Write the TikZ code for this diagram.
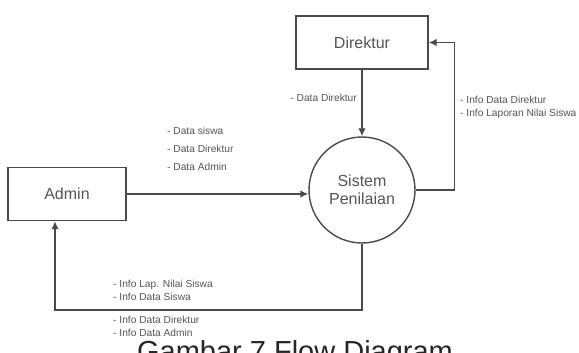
\documentclass[tikz,border=0pt]{standalone}
\usepackage{fontspec}
\setmainfont{Liberation Sans}
\usetikzlibrary{arrows.meta, positioning, calc}
\definecolor{garis}{HTML}{4A4A4A}
\definecolor{teks}{HTML}{555555}

\begin{document}
\begin{tikzpicture}[x=1pt, y=-1pt, >={Latex[length=8pt, width=7.5pt]},
    entity/.style={draw=garis, line width=1.4pt, minimum height=53pt, inner sep=0pt,
      text=teks, font=\fontsize{16}{18}\selectfont},
    proses/.style={draw=garis, line width=1.4pt, circle, minimum size=106pt, inner sep=0pt,
      align=center, text=teks, font=\fontsize{16}{18}\selectfont},
    flow/.style={->, draw=garis, line width=1.4pt},
    ket/.style={inner sep=0pt, align=left, text=teks, font=\fontsize{10.2}{13}\selectfont}]

  \fill[white] (0,0) rectangle (579,353);
  \useasboundingbox (0,0) rectangle (579,353);

  % entitas dan proses
  \node[entity, minimum width=132pt] (direktur) at (362,42.5) {Direktur};
  \node[entity, minimum width=118pt] (admin) at (67,194) {Admin};
  \node[proses] (sistem) at (362,190) {Sistem\\Penilaian};
  \coordinate (belok) at (55,310);

  % aliran data
  \draw[flow] (admin.east) -- (sistem.west |- admin.east);
  \draw[flow] (direktur) -- (sistem);
  \draw[flow] (sistem.east) -- ++(39,0) |- (direktur.east);
  \draw[flow] (sistem.south) |- (belok) -- (belok |- admin.south);

  % keterangan
  \node[ket, anchor=east] (kdir) at (357,98) {- Data Direktur};
  \node[ket, anchor=north west] (kadmin) at (167,126.5) {- Data siswa\\[5pt]- Data Direktur\\[5pt]- Data Admin};
  \node[ket, anchor=west] (kinfo) at (460,107) {- Info Data Direktur\\- Info Laporan Nilai Siswa};
  \node[ket, anchor=west] (katas) at (113,290.5) {- Info Lap. Nilai Siswa\\- Info Data Siswa};
  \node[ket, anchor=west] (kbawah) at (113,326) {- Info Data Direktur\\- Info Data Admin};

  % judul
  \node[anchor=base, inner sep=0pt, text=black!85, font=\fontsize{29}{30}\selectfont] (judul) at (295,361) {Gambar 7 Flow Diagram};
\end{tikzpicture}
\end{document}
